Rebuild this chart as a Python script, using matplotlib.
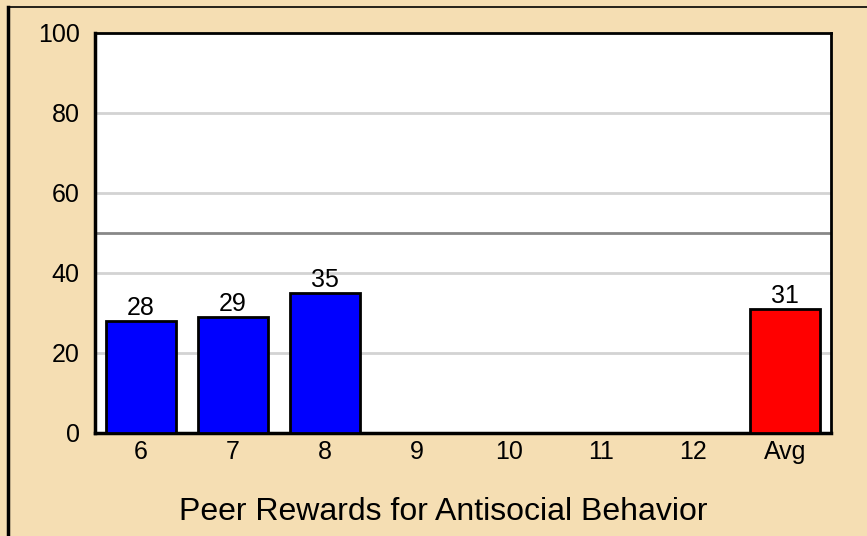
import matplotlib.pyplot as plt
from matplotlib.lines import Line2D
import numpy as np

categories = ["6", "7", "8", "9", "10", "11", "12", "Avg"]
values = [28, 29, 35, None, None, None, None, 31]
colors = ["blue", "blue", "blue", "blue", "blue", "blue", "blue", "red"]
y_ticks = [0, 20, 40, 60, 80, 100]
ref_line = 50
xlabel = "Peer Rewards for Antisocial Behavior"

plt.rcParams['font.family'] = ['Liberation Sans', 'DejaVu Sans']

W, H = 867, 536
fig = plt.figure(figsize=(W / 100, H / 100), dpi=100)
fig.patch.set_facecolor('#F5DEB3')
ax = fig.add_axes([95 / W, 1 - 433 / H, (831 - 95) / W, (433 - 33) / H])
ax.set_facecolor('white')

x = np.arange(len(categories))
for i, v in enumerate(values):
	if v is None:
		continue
	ax.bar(x[i], v, width=0.76, color=colors[i], edgecolor='black', linewidth=2, zorder=3)
	ax.text(x[i], v + 0.2, str(v), ha='center', va='bottom', fontsize=18, zorder=4)

ax.set_xlim(-0.5, len(categories) - 0.5)
ax.set_ylim(0, 100)
ax.set_yticks(y_ticks)
ax.set_xticks(x)
ax.set_xticklabels(categories)
ax.tick_params(axis='both', length=0, labelsize=18)
ax.tick_params(axis='y', pad=11)
ax.tick_params(axis='x', pad=5)

for t in y_ticks[1:-1]:
	ax.axhline(t, color='#D3D3D3', linewidth=2, zorder=1)
ax.axhline(ref_line, color='#888888', linewidth=2, zorder=2)

for s in ax.spines.values():
	s.set_linewidth(2.5)
	s.set_color('black')
ax.spines['top'].set_linewidth(2)
ax.spines['right'].set_linewidth(2)

fig.text(443 / W, 1 - 512 / H, xlabel, fontsize=23, ha='center', va='center')

# outer frame (left and top only)
fig.add_artist(Line2D([8 / W, 8 / W], [0, 1 - 7 / H], transform=fig.transFigure, color='black', linewidth=2.5))
fig.add_artist(Line2D([8 / W, 1], [1 - 7 / H, 1 - 7 / H], transform=fig.transFigure, color='black', linewidth=1.2))

plt.savefig("out.png", dpi=100, facecolor=fig.get_facecolor())
